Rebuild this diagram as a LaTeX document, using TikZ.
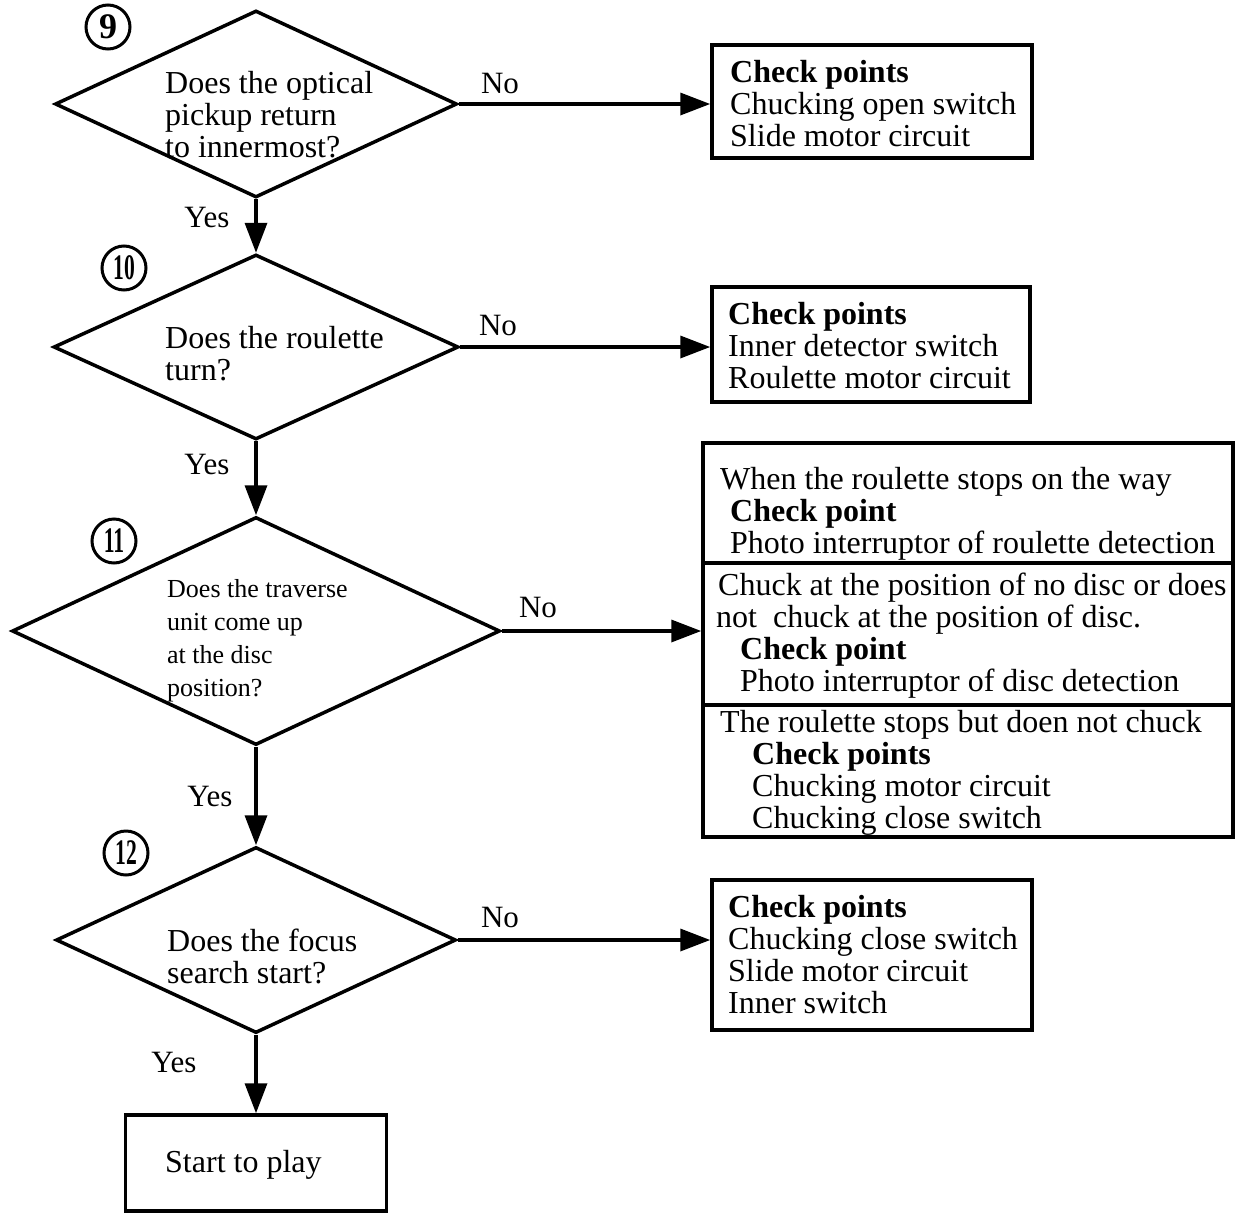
\documentclass[tikz,border=0pt]{standalone}
\usepackage{fontspec}
\setmainfont{Liberation Serif}
\usetikzlibrary{shapes.geometric,arrows.meta}
\tikzset{
  dec/.style={diamond,draw,line width=3.5pt,inner sep=0pt},
  boxnode/.style={rectangle,draw,line width=3.5pt,inner sep=0pt},
  txt/.style={anchor=west,inner sep=0pt,align=left,font=\fontsize{32}{32}\selectfont},
  lbl/.style={inner sep=0pt,font=\fontsize{31}{31}\selectfont},
  num/.style={circle,draw,line width=3pt,minimum size=44pt,inner sep=0pt,font=\bfseries\fontsize{36}{36}\selectfont},
  arr/.style={line width=3.5pt,-{Triangle[length=30pt,width=22pt]}}
}
\begin{document}
\begin{tikzpicture}[x=1pt,y=-1pt]
\useasboundingbox (0,0) rectangle (1235,1213);
% decisions
\node[dec,minimum width=402pt,minimum height=187pt] (d9) at (256,104) {};
\node[dec,minimum width=405pt,minimum height=185pt] (d10) at (256,347) {};
\node[dec,minimum width=488pt,minimum height=228pt] (d11) at (256,631) {};
\node[dec,minimum width=400pt,minimum height=186pt] (d12) at (256,940) {};
\node[boxnode,minimum width=261pt,minimum height=96pt] (start) at (256,1163) {};
% decision texts
\node[txt] (t9) at (165,115) {Does the optical\\pickup return\\to innermost?};
\node[txt] (t10) at (165,354) {Does the roulette\\turn?};
\node[txt,font=\fontsize{26}{33}\selectfont] (t11) at (167,641) {Does the traverse\\unit come up\\at the disc\\position?};
\node[txt] (t12) at (167,956) {Does the focus\\search start?};
\node[txt] (tstart) at (165,1165) {Start to play};
% circled numbers
\node[num] (n9) at (108,27) {9};
\node[num] (n10) at (124,268) {\scalebox{0.6}[1]{10}};
\node[num] (n11) at (114,541) {\scalebox{0.6}[1]{11}};
\node[num] (n12) at (126,853) {\scalebox{0.6}[1]{12}};
% check boxes
\node[boxnode,minimum width=320pt,minimum height=113pt] (c9) at (872,101.5) {};
\node[boxnode,minimum width=318pt,minimum height=115pt] (c10) at (871,344.5) {};
\node[boxnode,minimum width=530pt,minimum height=120pt] (c11a) at (968,503) {};
\node[boxnode,minimum width=530pt,minimum height=142pt] (c11b) at (968,634) {};
\node[boxnode,minimum width=530pt,minimum height=132pt] (c11c) at (968,771) {};
\node[boxnode,minimum width=320pt,minimum height=150pt] (c12) at (872,955) {};
% check texts
\node[txt] (k9) at (730,104) {\textbf{Check points}\\Chucking open switch\\Slide motor circuit};
\node[txt] (k10) at (728,346) {\textbf{Check points}\\Inner detector switch\\Roulette motor circuit};
\node[txt] (k11a) at (720,514) {When the roulette stops on the way\\\hspace*{10pt}\textbf{Check point}\\\hspace*{10pt}Photo interruptor of roulette detection};
\node[txt] (k11b) at (716,636) {\hspace*{2pt}Chuck at the position of no disc or does\\not\ \ chuck at the position of disc.\\\hspace*{24pt}\textbf{Check point}\\\hspace*{24pt}Photo interruptor of disc detection};
\node[txt] (k11c) at (720,773) {The roulette stops but doen not chuck\\\hspace*{32pt}\textbf{Check points}\\\hspace*{32pt}Chucking motor circuit\\\hspace*{32pt}Chucking close switch};
\node[txt] (k12) at (728,955) {\textbf{Check points}\\Chucking close switch\\Slide motor circuit\\Inner switch};
% connectors
\draw[arr] (d9.south) -- (d10.north);
\draw[arr] (d10.south) -- (d11.north);
\draw[arr] (d11.south) -- (d12.north);
\draw[arr] (d12.south) -- (start.north);
\draw[arr] (d9.east) -- (d9.east -| c9.west);
\draw[arr] (d10.east) -- (d10.east -| c10.west);
\draw[arr] (d11.east) -- (d11.east -| c11b.west);
\draw[arr] (d12.east) -- (d12.east -| c12.west);
% labels
\node[lbl] (y9) at (207,217) {Yes};
\node[lbl] (y10) at (207,464) {Yes};
\node[lbl] (y11) at (210,796) {Yes};
\node[lbl] (y12) at (174,1062) {Yes};
\node[lbl] (no9) at (500,83) {No};
\node[lbl] (no10) at (498,325) {No};
\node[lbl] (no11) at (538,607) {No};
\node[lbl] (no12) at (500,917) {No};
\end{tikzpicture}
\end{document}
